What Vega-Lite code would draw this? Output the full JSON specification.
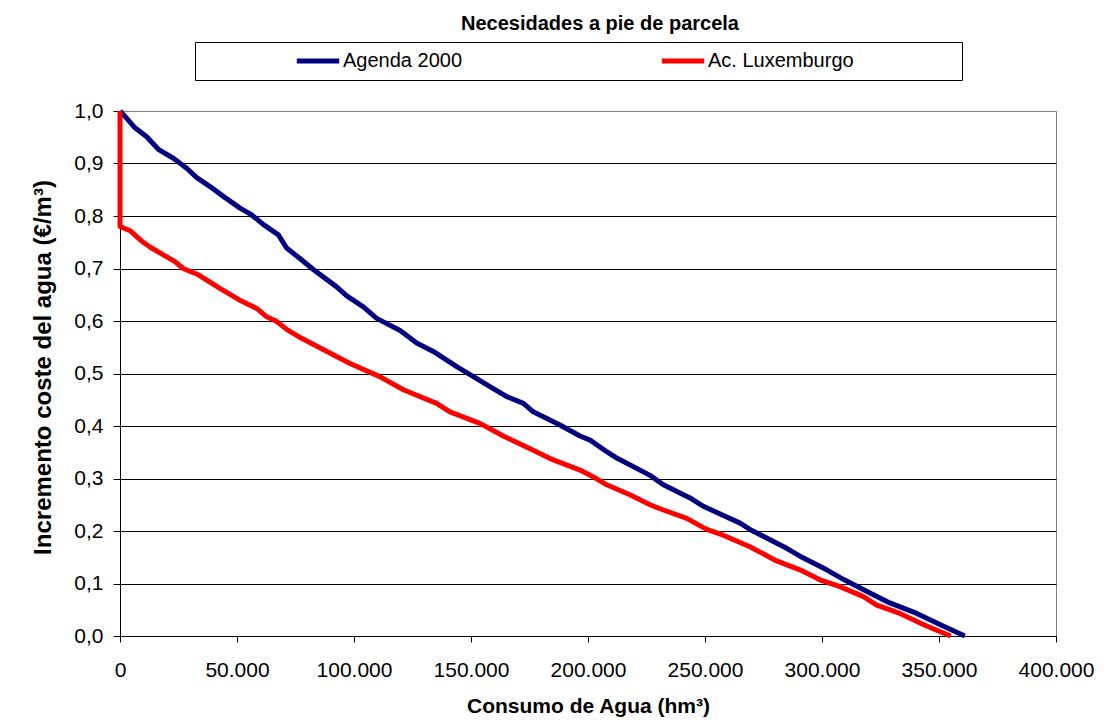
{
  "$schema": "https://vega.github.io/schema/vega-lite/v6.json",
  "autosize": {"type": "none"},
  "width": 936,
  "height": 525,
  "padding": {"left": 120, "top": 111, "right": 58, "bottom": 89},
  "background": "#ffffff",
  "title": {
    "text": "Necesidades a pie de parcela",
    "font": "Liberation Sans",
    "fontSize": 20,
    "fontWeight": "bold",
    "color": "#000000",
    "anchor": "middle",
    "frame": "group",
    "offset": 8,
    "dx": 12
  },
  "config": {
    "locale": {"number": {"decimal": ",", "thousands": ".", "grouping": [3], "currency": ["", " €"]}},
    "view": {"stroke": "#808080", "strokeWidth": 1},
    "font": "Liberation Sans"
  },
  "data": {
    "values": [
      {"serie": "Agenda 2000", "punto": 1, "consumo": 0, "coste": 1.0},
      {"serie": "Agenda 2000", "punto": 2, "consumo": 2900, "coste": 0.986},
      {"serie": "Agenda 2000", "punto": 3, "consumo": 6400, "coste": 0.968},
      {"serie": "Agenda 2000", "punto": 4, "consumo": 11400, "coste": 0.951},
      {"serie": "Agenda 2000", "punto": 5, "consumo": 16400, "coste": 0.927},
      {"serie": "Agenda 2000", "punto": 6, "consumo": 22800, "coste": 0.91},
      {"serie": "Agenda 2000", "punto": 7, "consumo": 28500, "coste": 0.891},
      {"serie": "Agenda 2000", "punto": 8, "consumo": 32800, "coste": 0.873},
      {"serie": "Agenda 2000", "punto": 9, "consumo": 38500, "coste": 0.856},
      {"serie": "Agenda 2000", "punto": 10, "consumo": 44900, "coste": 0.835},
      {"serie": "Agenda 2000", "punto": 11, "consumo": 51300, "coste": 0.815},
      {"serie": "Agenda 2000", "punto": 12, "consumo": 56300, "coste": 0.802},
      {"serie": "Agenda 2000", "punto": 13, "consumo": 61200, "coste": 0.784},
      {"serie": "Agenda 2000", "punto": 14, "consumo": 67700, "coste": 0.764},
      {"serie": "Agenda 2000", "punto": 15, "consumo": 71200, "coste": 0.739},
      {"serie": "Agenda 2000", "punto": 16, "consumo": 76900, "coste": 0.719},
      {"serie": "Agenda 2000", "punto": 17, "consumo": 82600, "coste": 0.698},
      {"serie": "Agenda 2000", "punto": 18, "consumo": 92600, "coste": 0.665},
      {"serie": "Agenda 2000", "punto": 19, "consumo": 96900, "coste": 0.648},
      {"serie": "Agenda 2000", "punto": 20, "consumo": 104000, "coste": 0.627},
      {"serie": "Agenda 2000", "punto": 21, "consumo": 109700, "coste": 0.605},
      {"serie": "Agenda 2000", "punto": 22, "consumo": 119700, "coste": 0.582},
      {"serie": "Agenda 2000", "punto": 23, "consumo": 126800, "coste": 0.558},
      {"serie": "Agenda 2000", "punto": 24, "consumo": 133900, "coste": 0.542},
      {"serie": "Agenda 2000", "punto": 25, "consumo": 143900, "coste": 0.513},
      {"serie": "Agenda 2000", "punto": 26, "consumo": 151000, "coste": 0.494},
      {"serie": "Agenda 2000", "punto": 27, "consumo": 158100, "coste": 0.475},
      {"serie": "Agenda 2000", "punto": 28, "consumo": 165300, "coste": 0.456},
      {"serie": "Agenda 2000", "punto": 29, "consumo": 172400, "coste": 0.443},
      {"serie": "Agenda 2000", "punto": 30, "consumo": 176600, "coste": 0.427},
      {"serie": "Agenda 2000", "punto": 31, "consumo": 188000, "coste": 0.402},
      {"serie": "Agenda 2000", "punto": 32, "consumo": 196600, "coste": 0.381},
      {"serie": "Agenda 2000", "punto": 33, "consumo": 200900, "coste": 0.373},
      {"serie": "Agenda 2000", "punto": 34, "consumo": 208000, "coste": 0.351},
      {"serie": "Agenda 2000", "punto": 35, "consumo": 212300, "coste": 0.339},
      {"serie": "Agenda 2000", "punto": 36, "consumo": 226500, "coste": 0.306},
      {"serie": "Agenda 2000", "punto": 37, "consumo": 232200, "coste": 0.288},
      {"serie": "Agenda 2000", "punto": 38, "consumo": 243600, "coste": 0.263},
      {"serie": "Agenda 2000", "punto": 39, "consumo": 249300, "coste": 0.247},
      {"serie": "Agenda 2000", "punto": 40, "consumo": 265000, "coste": 0.215},
      {"serie": "Agenda 2000", "punto": 41, "consumo": 269200, "coste": 0.203},
      {"serie": "Agenda 2000", "punto": 42, "consumo": 284900, "coste": 0.167},
      {"serie": "Agenda 2000", "punto": 43, "consumo": 290600, "coste": 0.152},
      {"serie": "Agenda 2000", "punto": 44, "consumo": 302000, "coste": 0.126},
      {"serie": "Agenda 2000", "punto": 45, "consumo": 309100, "coste": 0.108},
      {"serie": "Agenda 2000", "punto": 46, "consumo": 320500, "coste": 0.082},
      {"serie": "Agenda 2000", "punto": 47, "consumo": 329000, "coste": 0.063},
      {"serie": "Agenda 2000", "punto": 48, "consumo": 340500, "coste": 0.043},
      {"serie": "Agenda 2000", "punto": 49, "consumo": 350400, "coste": 0.022},
      {"serie": "Agenda 2000", "punto": 50, "consumo": 361000, "coste": 0.0},
      {"serie": "Ac. Luxemburgo", "punto": 1, "consumo": 0, "coste": 1.0},
      {"serie": "Ac. Luxemburgo", "punto": 2, "consumo": 0, "coste": 0.78},
      {"serie": "Ac. Luxemburgo", "punto": 3, "consumo": 4300, "coste": 0.772},
      {"serie": "Ac. Luxemburgo", "punto": 4, "consumo": 9300, "coste": 0.752},
      {"serie": "Ac. Luxemburgo", "punto": 5, "consumo": 12800, "coste": 0.741},
      {"serie": "Ac. Luxemburgo", "punto": 6, "consumo": 18500, "coste": 0.726},
      {"serie": "Ac. Luxemburgo", "punto": 7, "consumo": 23500, "coste": 0.713},
      {"serie": "Ac. Luxemburgo", "punto": 8, "consumo": 27000, "coste": 0.7},
      {"serie": "Ac. Luxemburgo", "punto": 9, "consumo": 33500, "coste": 0.688},
      {"serie": "Ac. Luxemburgo", "punto": 10, "consumo": 42700, "coste": 0.662},
      {"serie": "Ac. Luxemburgo", "punto": 11, "consumo": 50600, "coste": 0.641},
      {"serie": "Ac. Luxemburgo", "punto": 12, "consumo": 58400, "coste": 0.624},
      {"serie": "Ac. Luxemburgo", "punto": 13, "consumo": 62700, "coste": 0.608},
      {"serie": "Ac. Luxemburgo", "punto": 14, "consumo": 67000, "coste": 0.599},
      {"serie": "Ac. Luxemburgo", "punto": 15, "consumo": 71200, "coste": 0.584},
      {"serie": "Ac. Luxemburgo", "punto": 16, "consumo": 77600, "coste": 0.567},
      {"serie": "Ac. Luxemburgo", "punto": 17, "consumo": 94000, "coste": 0.529},
      {"serie": "Ac. Luxemburgo", "punto": 18, "consumo": 98300, "coste": 0.519},
      {"serie": "Ac. Luxemburgo", "punto": 19, "consumo": 111000, "coste": 0.494},
      {"serie": "Ac. Luxemburgo", "punto": 20, "consumo": 121100, "coste": 0.469},
      {"serie": "Ac. Luxemburgo", "punto": 21, "consumo": 135300, "coste": 0.443},
      {"serie": "Ac. Luxemburgo", "punto": 22, "consumo": 141000, "coste": 0.427},
      {"serie": "Ac. Luxemburgo", "punto": 23, "consumo": 153800, "coste": 0.405},
      {"serie": "Ac. Luxemburgo", "punto": 24, "consumo": 163800, "coste": 0.381},
      {"serie": "Ac. Luxemburgo", "punto": 25, "consumo": 176600, "coste": 0.354},
      {"serie": "Ac. Luxemburgo", "punto": 26, "consumo": 183800, "coste": 0.338},
      {"serie": "Ac. Luxemburgo", "punto": 27, "consumo": 196600, "coste": 0.316},
      {"serie": "Ac. Luxemburgo", "punto": 28, "consumo": 202300, "coste": 0.303},
      {"serie": "Ac. Luxemburgo", "punto": 29, "consumo": 208000, "coste": 0.288},
      {"serie": "Ac. Luxemburgo", "punto": 30, "consumo": 217900, "coste": 0.269},
      {"serie": "Ac. Luxemburgo", "punto": 31, "consumo": 226500, "coste": 0.25},
      {"serie": "Ac. Luxemburgo", "punto": 32, "consumo": 232200, "coste": 0.24},
      {"serie": "Ac. Luxemburgo", "punto": 33, "consumo": 242200, "coste": 0.224},
      {"serie": "Ac. Luxemburgo", "punto": 34, "consumo": 250700, "coste": 0.203},
      {"serie": "Ac. Luxemburgo", "punto": 35, "consumo": 257800, "coste": 0.192},
      {"serie": "Ac. Luxemburgo", "punto": 36, "consumo": 269200, "coste": 0.17},
      {"serie": "Ac. Luxemburgo", "punto": 37, "consumo": 280600, "coste": 0.143},
      {"serie": "Ac. Luxemburgo", "punto": 38, "consumo": 290600, "coste": 0.126},
      {"serie": "Ac. Luxemburgo", "punto": 39, "consumo": 299100, "coste": 0.107},
      {"serie": "Ac. Luxemburgo", "punto": 40, "consumo": 307700, "coste": 0.094},
      {"serie": "Ac. Luxemburgo", "punto": 41, "consumo": 317700, "coste": 0.075},
      {"serie": "Ac. Luxemburgo", "punto": 42, "consumo": 323400, "coste": 0.059},
      {"serie": "Ac. Luxemburgo", "punto": 43, "consumo": 333300, "coste": 0.043},
      {"serie": "Ac. Luxemburgo", "punto": 44, "consumo": 343300, "coste": 0.022},
      {"serie": "Ac. Luxemburgo", "punto": 45, "consumo": 349000, "coste": 0.011},
      {"serie": "Ac. Luxemburgo", "punto": 46, "consumo": 355000, "coste": 0.0}
    ]
  },
  "mark": {"type": "line", "strokeWidth": 5, "interpolate": "linear", "strokeJoin": "round"},
  "encoding": {
    "x": {
      "field": "consumo",
      "type": "quantitative",
      "scale": {"domain": [0, 400000], "nice": false},
      "axis": {
        "values": [0, 50000, 100000, 150000, 200000, 250000, 300000, 350000, 400000],
        "format": ",.0f",
        "grid": false,
        "domainColor": "#000000",
        "domainWidth": 1,
        "tickColor": "#000000",
        "tickSize": 6,
        "labelFont": "Liberation Sans",
        "labelFontSize": 21,
        "labelColor": "#000000",
        "labelBaseline": "alphabetic",
        "labelPadding": 34,
        "labelFlush": false,
        "labelOverlap": false,
        "title": "Consumo de Agua (hm³)",
        "titleFont": "Liberation Sans",
        "titleFontSize": 21,
        "titleFontWeight": "bold",
        "titleColor": "#000000",
        "titleBaseline": "alphabetic",
        "titleAlign": "center",
        "titleX": 468,
        "titleY": 76
      }
    },
    "y": {
      "field": "coste",
      "type": "quantitative",
      "scale": {"domain": [0, 1], "nice": false},
      "axis": {
        "values": [0, 0.1, 0.2, 0.3, 0.4, 0.5, 0.6, 0.7, 0.8, 0.9, 1],
        "format": ".1f",
        "grid": true,
        "gridColor": {"condition": {"test": "datum.value >= 1", "value": "#808080"}, "value": "#000000"},
        "gridWidth": 1,
        "gridOpacity": 1,
        "domainColor": "#000000",
        "domainWidth": 1,
        "tickColor": "#000000",
        "tickSize": 7,
        "labelFont": "Liberation Sans",
        "labelFontSize": 21,
        "labelColor": "#000000",
        "labelPadding": 10,
        "labelFlush": false,
        "labelOverlap": false,
        "title": "Incremento coste del agua (€/m³)",
        "titleFont": "Liberation Sans",
        "titleFontSize": 24,
        "titleFontWeight": "bold",
        "titleColor": "#000000",
        "titleAngle": 270,
        "titleAlign": "center",
        "titleBaseline": "alphabetic",
        "titleX": -70,
        "titleY": 256
      }
    },
    "color": {
      "field": "serie",
      "type": "nominal",
      "scale": {"domain": ["Agenda 2000", "Ac. Luxemburgo"], "range": ["#000080", "#ff0000"]},
      "legend": {
        "title": " ",
        "titleOrient": "right",
        "titleFontSize": 20,
        "titlePadding": 100,
        "orient": "none",
        "legendX": 75,
        "legendY": -69,
        "direction": "horizontal",
        "columns": 2,
        "strokeColor": "#000000",
        "fillColor": "#ffffff",
        "padding": 8,
        "clipHeight": 22,
        "symbolType": "stroke",
        "symbolSize": 1800,
        "symbolStrokeWidth": 5,
        "symbolOffset": 91,
        "labelOffset": 1,
        "columnPadding": 105,
        "labelFont": "Liberation Sans",
        "labelFontSize": 20,
        "labelColor": "#000000",
        "labelLimit": 400
      }
    },
    "order": {"field": "punto", "type": "quantitative"}
  }
}
